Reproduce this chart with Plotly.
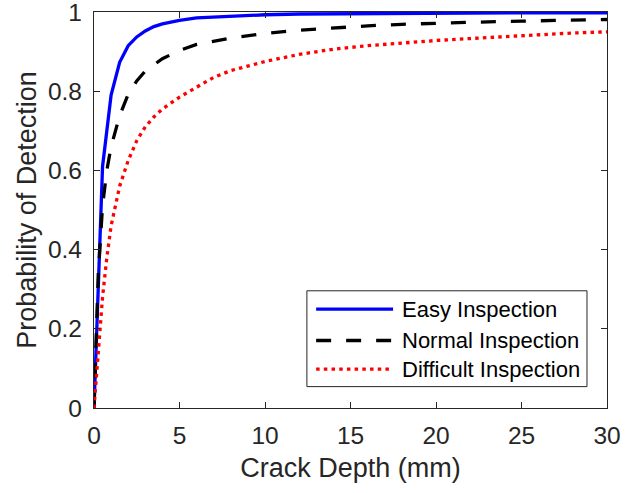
import plotly.graph_objects as go

# ---- data ----
easy_x = [0, 0.5, 1, 1.5, 2, 2.5, 3, 3.5, 4, 5, 6, 8, 10, 12, 15, 20, 25, 30]
easy_y = [0, 0.61, 0.79, 0.873, 0.915, 0.937, 0.952, 0.963, 0.970, 0.979, 0.985, 0.990, 0.993, 0.995, 0.996, 0.997, 0.998, 0.998]

normal_x = [0, 0.25, 0.5, 0.75, 1, 1.5, 2, 2.5, 3, 4, 5, 6, 8, 10, 12, 14, 16, 18, 20, 22, 25, 28, 30]
normal_y = [0, 0.34, 0.51, 0.60, 0.66, 0.738, 0.792, 0.826, 0.851, 0.882, 0.903, 0.918, 0.934, 0.946, 0.954, 0.960, 0.965, 0.969, 0.972, 0.974, 0.977, 0.980, 0.981]

difficult_x = [0, 0.25, 0.5, 0.75, 1, 1.5, 2, 2.5, 3, 3.5, 4, 5, 6, 7, 8, 10, 12, 14, 16, 18, 20, 22, 25, 28, 30]
difficult_y = [0, 0.15, 0.28, 0.38, 0.46, 0.56, 0.625, 0.675, 0.71, 0.735, 0.755, 0.785, 0.81, 0.835, 0.852, 0.875, 0.893, 0.906, 0.915, 0.922, 0.928, 0.933, 0.941, 0.947, 0.95]

series_names = ["Easy Inspection", "Normal Inspection", "Difficult Inspection"]
series_colors = ["#0000ff", "#000000", "#ff0000"]
series_dash = ["solid", "15px,15px", "3.5px,4.2px"]

x_ticks = [0, 5, 10, 15, 20, 25, 30]
y_ticks = [0, 0.2, 0.4, 0.6, 0.8, 1]
y_tick_text = ["0", "0.2", "0.4", "0.6", "0.8", "1"]

AX = "#262626"
FONT = "Liberation Sans, Arial, Helvetica, sans-serif"

fig = go.Figure()
for xs, ys, name, col, dash in zip([easy_x, normal_x, difficult_x],
                                   [easy_y, normal_y, difficult_y],
                                   series_names, series_colors, series_dash):
    fig.add_trace(go.Scatter(x=xs, y=ys, mode="lines", name=name,
                             line=dict(color=col, width=3.3, dash=dash),
                             showlegend=False, cliponaxis=False))

# manual MATLAB-style legend (paper coords)
lx0, lx1 = 0.415, 0.961
ly0, ly1 = 0.054, 0.296
fig.add_shape(type="rect", xref="paper", yref="paper", x0=lx0, x1=lx1, y0=ly0, y1=ly1,
              line=dict(color=AX, width=1), fillcolor="white", layer="above")
row_y = [0.2496, 0.1705, 0.0983]
for name, col, dash, ry in zip(series_names, series_colors, series_dash, row_y):
    fig.add_shape(type="line", xref="paper", yref="paper", x0=0.433, x1=0.583, y0=ry, y1=ry,
                  line=dict(color=col, width=3.3, dash=dash), layer="above")
    fig.add_annotation(xref="paper", yref="paper", x=0.597, y=ry, text=name,
                       showarrow=False, xanchor="left", yanchor="middle",
                       font=dict(family=FONT, size=22, color="#000000"))

axis_common = dict(showline=True, linecolor=AX, linewidth=1.2, mirror="ticks",
                   ticks="inside", ticklen=6, tickcolor=AX, tickwidth=1.2,
                   showgrid=False, zeroline=False, ticklabeloverflow="allow",
                   tickfont=dict(family=FONT, size=24.5, color=AX))

fig.update_xaxes(range=[0, 30], tickvals=x_ticks, ticktext=[str(t) for t in x_ticks],
                 title=dict(text="Crack Depth (mm)", font=dict(family=FONT, size=27, color=AX), standoff=10),
                 ticklabelstandoff=5, **axis_common)
fig.update_yaxes(range=[0, 1], tickvals=y_ticks, ticktext=y_tick_text,
                 title=dict(text="Probability of Detection", font=dict(family=FONT, size=27, color=AX), standoff=3),
                 ticklabelstandoff=6, **axis_common)

fig.update_layout(width=644, height=493, autosize=False,
                  margin=dict(l=94, r=37, t=12, b=85, autoexpand=False),
                  paper_bgcolor="white", plot_bgcolor="white",
                  font=dict(family=FONT, color=AX))

fig.write_html("out.html")
